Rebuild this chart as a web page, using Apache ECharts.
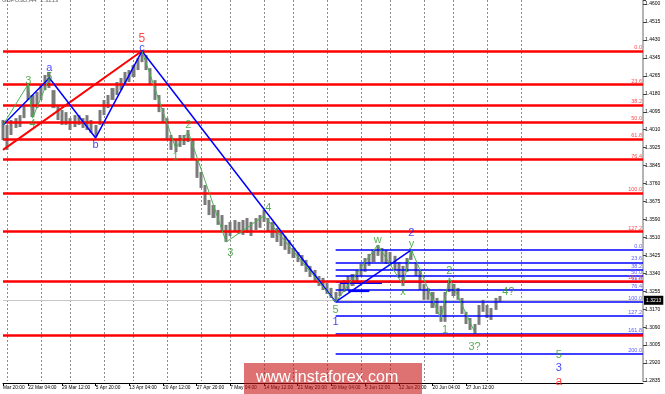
<!DOCTYPE html>
<html><head><meta charset="utf-8">
<script src="https://cdn.jsdelivr.net/npm/echarts@6/dist/echarts.min.js"></script>
<style>html,body{margin:0;padding:0;background:#fff}#c{width:665px;height:394px}</style>
</head><body><div id="c"></div>
<script>
// ---------- data ----------
const slotCount = 153;
const barHigh = [1.4057,1.4034,1.4057,1.4066,1.4080,1.4127,1.4221,1.4174,1.4188,1.4221,
1.4268,1.4282,1.4197,1.4127,1.4104,1.4094,1.4066,1.4080,1.4080,1.4066,
1.4080,1.4057,1.4034,1.4104,1.4151,1.4174,1.4207,1.4235,1.4254,1.4282,
1.4291,1.4314,1.4347,1.4385,1.4361,1.4300,1.4244,1.4174,1.4113,1.4066,
1.3987,1.3963,1.3987,1.3987,1.4010,1.3963,1.3870,1.3814,1.3753,1.3683,
1.3659,1.3636,1.3612,1.3566,1.3580,1.3589,1.3580,1.3589,1.3598,1.3580,
1.3598,1.3612,1.3636,1.3598,1.3580,1.3552,1.3533,1.3514,1.3495,1.3458,
1.3439,1.3425,1.3402,1.3374,1.3355,1.3327,1.3318,1.3294,1.3271,1.3252,
1.3290,1.3308,1.3327,1.3336,1.3355,1.3383,1.3411,1.3430,1.3449,1.3472,
1.3458,1.3449,1.3439,1.3421,1.3392,1.3374,1.3411,1.3449,1.3392,1.3355,
1.3290,1.3271,1.3252,1.3224,1.3187,1.3252,1.3308,1.3290,1.3271,1.3224,
1.3159,1.3130,1.3102,1.3191,1.3215,1.3191,1.3177,1.3224,1.3233];
const barLow = [1.3963,1.3917,1.3987,1.4020,1.4024,1.4066,1.4151,1.4071,1.4113,1.4151,
1.4197,1.4207,1.4113,1.4057,1.4034,1.4034,1.4010,1.4024,1.4034,1.4020,
1.4010,1.3996,1.3982,1.4034,1.4080,1.4113,1.4151,1.4174,1.4197,1.4221,
1.4235,1.4258,1.4291,1.4328,1.4291,1.4221,1.4151,1.4094,1.4048,1.3963,
1.3917,1.3907,1.3931,1.3940,1.3954,1.3870,1.3786,1.3739,1.3659,1.3612,
1.3598,1.3566,1.3533,1.3486,1.3514,1.3533,1.3524,1.3519,1.3528,1.3514,
1.3542,1.3552,1.3580,1.3533,1.3505,1.3486,1.3467,1.3449,1.3430,1.3411,
1.3392,1.3374,1.3346,1.3322,1.3304,1.3280,1.3261,1.3243,1.3224,1.3205,
1.3233,1.3252,1.3261,1.3280,1.3299,1.3327,1.3346,1.3374,1.3392,1.3421,
1.3392,1.3383,1.3374,1.3355,1.3318,1.3280,1.3346,1.3402,1.3327,1.3261,
1.3215,1.3215,1.3177,1.3149,1.3112,1.3112,1.3252,1.3233,1.3215,1.3149,
1.3102,1.3074,1.3056,1.3098,1.3159,1.3130,1.3121,1.3168,1.3205];

const xTickText = ['Mar 20:00','22 Mar 04:00','29 Mar 12:00','5 Apr 20:00','13 Apr 04:00','20 Apr 12:00','27 Apr 20:00','7 May 04:00','14 May 12:00','21 May 20:00','29 May 04:00','5 Jun 12:00','12 Jun 20:00','20 Jun 04:00','27 Jun 12:00'];
const xTickSlot = [0,6,14,22,30,38,46,54,62,70,78,86,94,102,110];
const vGridSlot = [1,9,16,24,31,39,47,54,62,69,77,85,92,100,107,115,123];

const yTickLabels = ['1.2835','1.2920','1.3005','1.3090','1.3170','1.3255','1.3340','1.3425','1.3510','1.3590','1.3675','1.3760','1.3845','1.3925','1.4010','1.4095','1.4180','1.4265','1.4345','1.4430','1.4515','1.4600'];
const yMin = 1.2835, yTop = 1.4600, yMax = 1.4619;
const lastPrice = 1.3213;

const fibText = ['0.0','23.6','38.2','50.0','61.8','76.4','100.0','127.2','161.8','200.0'];
const redFibPrice = [1.4380,1.4223,1.4126,1.4048,1.3969,1.3872,1.3715,1.3534,1.3304,1.3050];
const blueFibPrice = [1.3449,1.3391,1.3356,1.3327,1.3298,1.3263,1.3205,1.3139,1.3054,1.2961];
const blueFibStart = 79, blueFibEnd = 152;
const blueShortLevels = [[80,90,1.3294],[82,87,1.3257]];

const redTrend = [[0,1.3917],[33,1.4380]];
const blueWave = [[0,1.4034],[11,1.4254],[22,1.3973],[33,1.4380],[79,1.3205]];
const blueWave2 = [[79,1.3205],[97,1.3449]];
const greenEarly = [[0,1.4034],[6,1.4226],[7,1.4066],[11,1.4254]];
const greenMid = [[33,1.4380],[41,1.3926],[44,1.4001],[53,1.3486],[62,1.3608],[79,1.3205]];
const greenLate = [[79,1.3205],[89,1.3472],[95,1.3285],[97,1.3449],[104,1.3126],[106,1.3318],[112,1.3065]];

const blueLabels = [[11,1.4301,'a'],[33,1.4394,'c'],[22,1.3940,'b'],[79,1.3112,'1'],[97,1.3528,'2'],[132,1.2897,'3']];
const redLabels = [[33,1.4436,'5'],[132,1.2831,'a']];
const greenLabels = [[6,1.4240,'3'],[7,1.4038,'4'],[11,1.4258,'5'],[41,1.3885,'1'],[44,1.4034,'2'],[54,1.3435,'3'],[63,1.3645,'4'],[79,1.3168,'5'],[89,1.3496,'w'],[95,1.3253,'x'],[97,1.3477,'y'],[105,1.3074,'1'],[106,1.3350,'2'],[112,1.2995,'3?'],[120,1.3253,'4?'],[132,1.2958,'5']];

// ---------- chart ----------
const slots = Array.from({length: slotCount}, (_, i) => String(i));
const candleData = barHigh.map((h, i) => [barLow[i], h, barLow[i], h]);
const tickMap = {}; xTickSlot.forEach((s, i) => tickMap[s] = xTickText[i]);
const vGridSet = new Set(vGridSlot);
const yStep = (yTop - yMin) / (yTickLabels.length - 1);
const FONT = 'Liberation Sans, Arial, sans-serif';

function labelSeries(data, color, size) {
  return {
    type: 'scatter', data: data, symbolSize: 0.1, clip: false, z: 8,
    itemStyle: {color: 'rgba(0,0,0,0)'},
    labelLayout: {hideOverlap: false},
    label: {show: true, position: 'inside', formatter: p => p.value[2], color: color, fontSize: size, fontFamily: FONT}
  };
}
function trend(data, color, width, extra) {
  return Object.assign({type: 'line', data: data, symbol: 'none', z: 4, lineStyle: {color: color, width: width}}, extra || {});
}

const chart = echarts.init(document.getElementById('c'), null, {renderer: 'canvas'});
chart.setOption({
  animation: false,
  backgroundColor: '#ffffff',
  grid: {left: 0, right: 22, top: 0, bottom: 13},
  xAxis: {
    type: 'category', data: slots, boundaryGap: false, offset: 2,
    axisLine: {lineStyle: {color: '#000', width: 1}},
    axisTick: {show: true, interval: i => tickMap[i] !== undefined, length: 3, lineStyle: {color: '#000'}},
    axisLabel: {interval: i => tickMap[i] !== undefined, formatter: (v, i) => tickMap[i] || '', align: 'left', fontSize: 4.8, margin: 2, color: '#000', fontFamily: FONT},
    splitLine: {show: true, interval: i => vGridSet.has(i), lineStyle: {type: [2, 2], color: '#8a8a8a', width: 1}}
  },
  yAxis: {
    type: 'value', position: 'right', min: yMin, max: yMax, interval: yStep,
    axisLine: {show: true, lineStyle: {color: '#b4b4b4', width: 2}},
    axisTick: {show: true, length: 3, lineStyle: {color: '#444'}},
    axisLabel: {fontSize: 5, color: '#000', margin: 2, fontFamily: FONT,
      formatter: v => { const k = (v - yMin) / yStep; const r = Math.round(k); return Math.abs(k - r) < 0.05 && yTickLabels[r] ? yTickLabels[r] : ''; }},
    splitLine: {show: false}
  },
  series: [
    {
      type: 'candlestick', data: candleData, z: 2, barWidth: 3.6,
      itemStyle: {color: '#7a7a7a', color0: '#7a7a7a', borderColor: '#7a7a7a', borderColor0: '#7a7a7a', borderWidth: 0},
      markLine: {silent: true, symbol: 'none', z: 1, precision: 4,
        lineStyle: {color: '#c8c8c8', width: 1, type: 'solid'},
        label: {show: true, position: 'end', formatter: lastPrice.toFixed(4), backgroundColor: '#000', color: '#fff', fontSize: 5, padding: [2, 2], distance: 1, fontFamily: FONT},
        data: [{yAxis: lastPrice}]}
    },
    trend(blueWave2, '#0000ff', 1.5, {
      markLine: {silent: true, symbol: 'none', z: 3, precision: 4,
        lineStyle: {color: '#0000ff', width: 1.6, type: 'solid'},
        label: {show: true, position: 'insideEndTop', color: '#5b5bff', fontSize: 5.5, distance: [1, 0.5], fontFamily: FONT},
        data: blueFibPrice.map((p, i) => [{coord: [blueFibStart, p], label: {formatter: fibText[i]}}, {coord: [blueFibEnd, p]}])
          .concat(blueShortLevels.map(s => [{coord: [s[0], s[2]], lineStyle: {width: 2.2}, label: {show: false}}, {coord: [s[1], s[2]]}]))}
    }),
    trend(redTrend, '#ff0000', 2, {
      markLine: {silent: true, symbol: 'none', z: 3, precision: 4,
        lineStyle: {color: '#ff0000', width: 2.5, type: 'solid'},
        label: {show: true, position: 'insideEndTop', color: '#ff4a4a', fontSize: 5.5, distance: [1, 0.5], fontFamily: FONT},
        data: redFibPrice.map((p, i) => ({yAxis: p, label: {show: i < redFibPrice.length - 1, formatter: fibText[i]}}))}
    }),
    trend(blueWave, '#0000ff', 1.5),
    trend(greenEarly, '#4cb050', 1),
    trend(greenMid, '#4cb050', 1),
    trend(greenLate, '#4cb050', 1),
    labelSeries(blueLabels, '#1414ff', 11),
    labelSeries(greenLabels, '#2a9a2a', 11),
    labelSeries(redLabels, '#ff1a1a', 12)
  ],
  graphic: [
    {type: 'text', left: 2, top: -3, z: 10, style: {text: 'GBPUSD,H4  1.3213', fontSize: 6, fill: '#666', fontFamily: FONT}},
    {type: 'rect', left: 244, top: 363, z: 20, shape: {width: 178, height: 31}, style: {fill: 'rgba(200,20,20,0.6)'}},
    {type: 'text', left: 256, top: 370, z: 21, style: {text: 'www.instaforex.com', fontSize: 16, fill: '#ffffff', fontFamily: FONT}}
  ]
});
</script></body></html>
